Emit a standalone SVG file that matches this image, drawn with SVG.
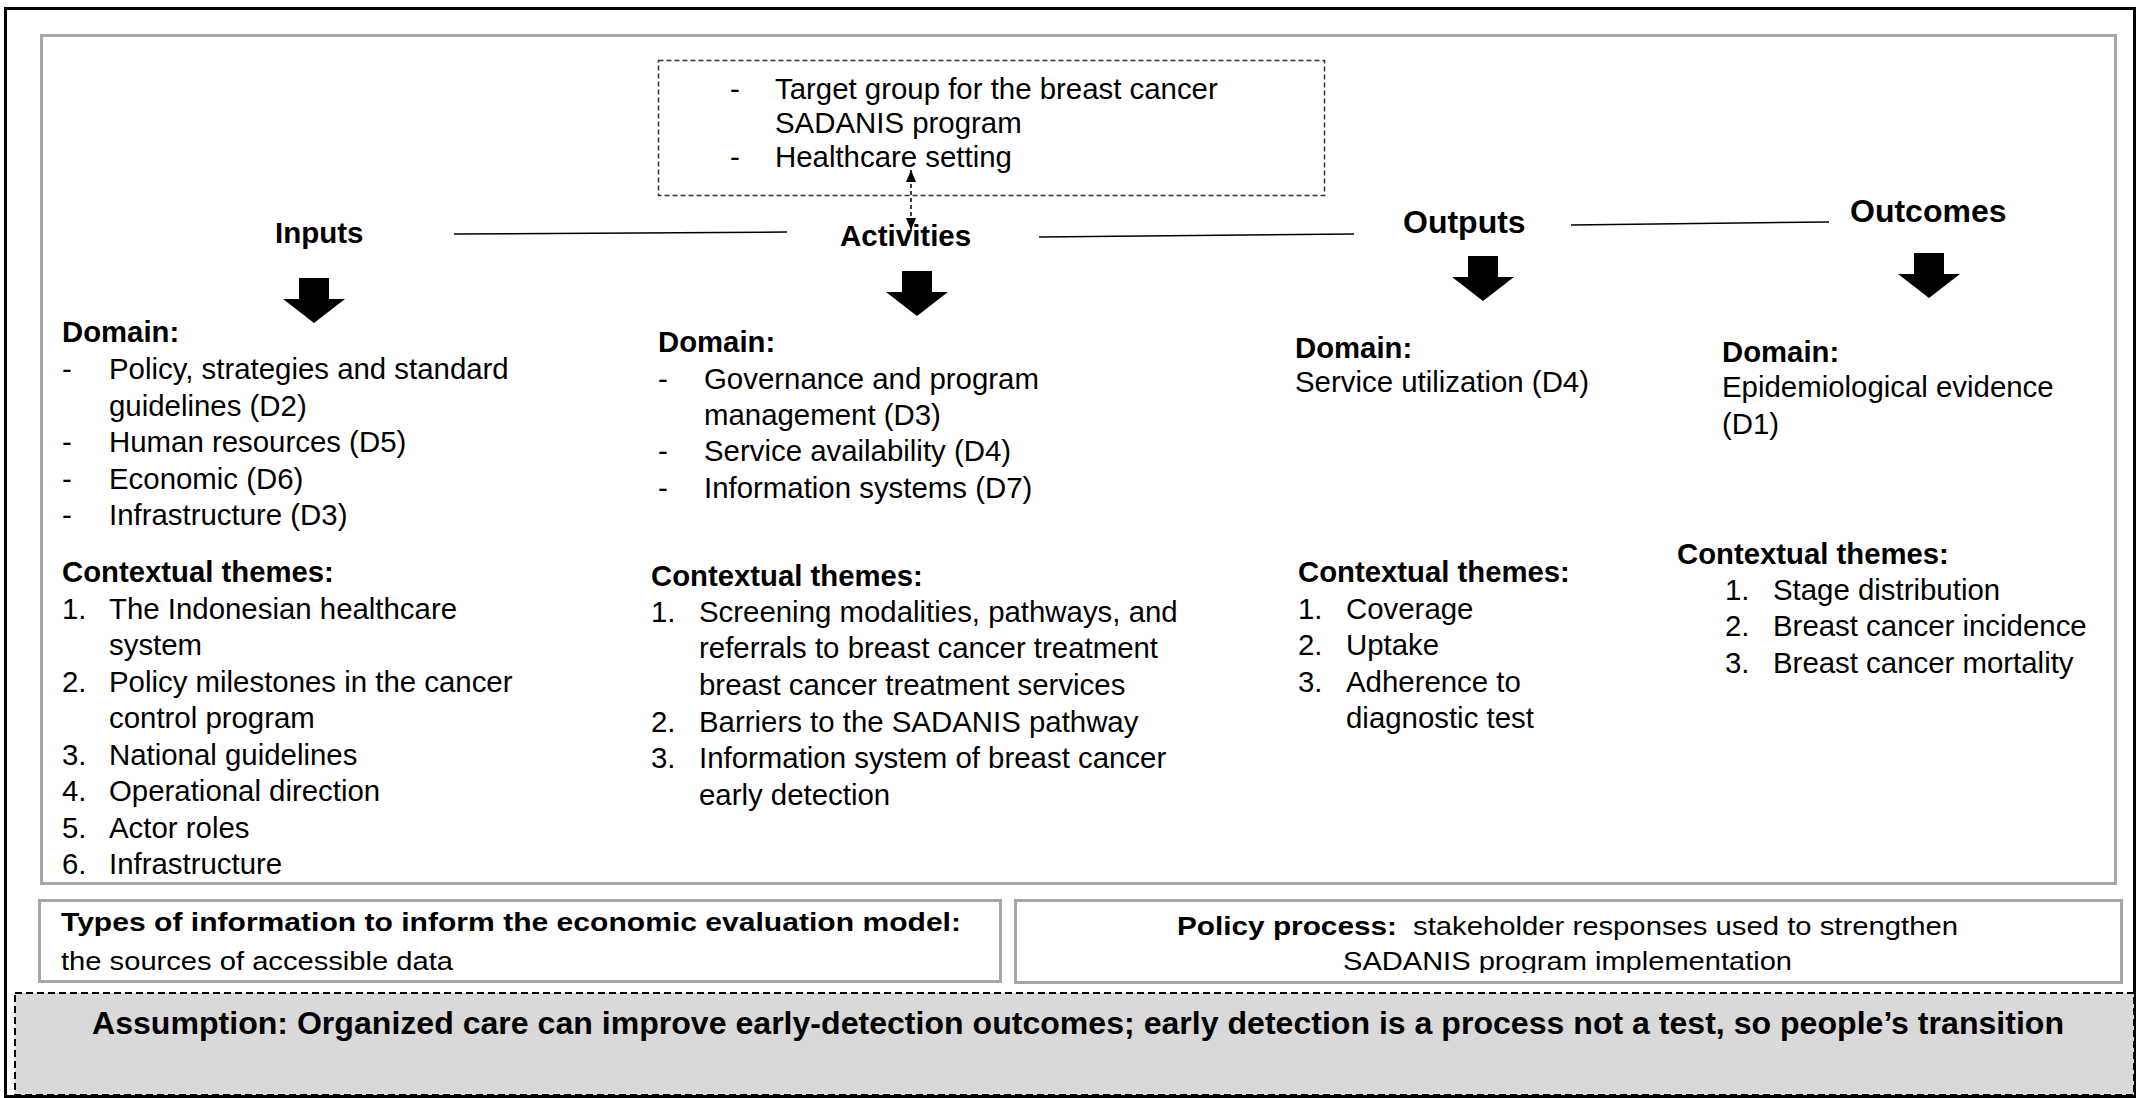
<svg xmlns="http://www.w3.org/2000/svg" width="2136" height="1098" viewBox="0 0 2136 1098">
  <style>
    text{font-family:"Liberation Sans",Arial,Helvetica,sans-serif;fill:#000}
    .t{font-size:29.4px}
    .b{font-size:29.3px;font-weight:bold}
    .hd{font-size:29.5px;font-weight:bold}
    .hl{font-size:32px;font-weight:bold}
    .sm{font-size:26px}
    .smb{font-size:26px;font-weight:bold}
    .panel{fill:#fff;stroke:#a6a6a6;stroke-width:3}
    .link{stroke:#000;stroke-width:1.5;fill:none}
  </style>
  <defs>
    <!-- solid block arrow, tip at (0,0) -->
    <path id="blockArrow" d="M-15,-45 H15 V-24 H31 L0,0 L-31,-24 H-15 Z" fill="#000"/>
    <marker id="tri" viewBox="0 0 12 10" refX="12" refY="5" markerWidth="12" markerHeight="10" markerUnits="userSpaceOnUse" orient="auto-start-reverse">
      <path d="M0,0 L12,5 L0,10 Z" fill="#000"/>
    </marker>
    <clipPath id="policyClip">
      <rect x="1016" y="901" width="1104" height="72"/>
    </clipPath>
  </defs>

  <!-- page frame and main panel -->
  <rect x="5.5" y="8.5" width="2129" height="1088" fill="#fff" stroke="#000" stroke-width="3"/>
  <rect class="panel" x="41.5" y="35.5" width="2074" height="848"/>

  <!-- target group / setting box -->
  <g id="context">
    <rect x="658.5" y="60.5" width="666" height="135" fill="none" stroke="#333" stroke-width="1.5" stroke-dasharray="5 3"/>
    <text class="t" x="730" y="99">-</text>
    <text class="t" x="775" y="99">Target group for the breast cancer</text>
    <text class="t" x="775" y="133">SADANIS program</text>
    <text class="t" x="730" y="167">-</text>
    <text class="t" x="775" y="167">Healthcare setting</text>
  </g>

  <!-- connectors -->
  <g id="connectors">
    <line class="link" x1="454" y1="234" x2="787" y2="232"/>
    <line class="link" x1="1039" y1="237" x2="1354" y2="234"/>
    <line class="link" x1="1571" y1="225" x2="1829" y2="222"/>
    <line x1="911" y1="170" x2="911" y2="230" stroke="#000" stroke-width="1.5" stroke-dasharray="4 3" marker-start="url(#tri)" marker-end="url(#tri)"/>
    <use href="#blockArrow" x="314" y="323"/>
    <use href="#blockArrow" x="917" y="316"/>
    <use href="#blockArrow" x="1483" y="301"/>
    <use href="#blockArrow" x="1929" y="298"/>
  </g>

  <!-- Inputs -->
  <g id="inputs">
    <text class="hd" x="275" y="243">Inputs</text>
    <text class="b" x="62" y="342">Domain:</text>
    <text class="t" x="62" y="379">-</text>
    <text class="t" x="109" y="379">Policy, strategies and standard</text>
    <text class="t" x="109" y="415.5">guidelines (D2)</text>
    <text class="t" x="62" y="452">-</text>
    <text class="t" x="109" y="452">Human resources (D5)</text>
    <text class="t" x="62" y="488.5">-</text>
    <text class="t" x="109" y="488.5">Economic (D6)</text>
    <text class="t" x="62" y="525">-</text>
    <text class="t" x="109" y="525">Infrastructure (D3)</text>
    <text class="b" x="62" y="582">Contextual themes:</text>
    <text class="t" x="62" y="618.5">1.</text>
    <text class="t" x="109" y="618.5">The Indonesian healthcare</text>
    <text class="t" x="109" y="655">system</text>
    <text class="t" x="62" y="691.5">2.</text>
    <text class="t" x="109" y="691.5">Policy milestones in the cancer</text>
    <text class="t" x="109" y="728">control program</text>
    <text class="t" x="62" y="764.5">3.</text>
    <text class="t" x="109" y="764.5">National guidelines</text>
    <text class="t" x="62" y="801">4.</text>
    <text class="t" x="109" y="801">Operational direction</text>
    <text class="t" x="62" y="837.5">5.</text>
    <text class="t" x="109" y="837.5">Actor roles</text>
    <text class="t" x="62" y="874">6.</text>
    <text class="t" x="109" y="874">Infrastructure</text>
  </g>

  <!-- Activities -->
  <g id="activities">
    <text class="hd" x="840" y="246">Activities</text>
    <text class="b" x="658" y="352">Domain:</text>
    <text class="t" x="658" y="389">-</text>
    <text class="t" x="704" y="389">Governance and program</text>
    <text class="t" x="704" y="425">management (D3)</text>
    <text class="t" x="658" y="461">-</text>
    <text class="t" x="704" y="461">Service availability (D4)</text>
    <text class="t" x="658" y="498">-</text>
    <text class="t" x="704" y="498">Information systems (D7)</text>
    <text class="b" x="651" y="586">Contextual themes:</text>
    <text class="t" x="651" y="622">1.</text>
    <text class="t" x="699" y="622">Screening modalities, pathways, and</text>
    <text class="t" x="699" y="658">referrals to breast cancer treatment</text>
    <text class="t" x="699" y="695">breast cancer treatment services</text>
    <text class="t" x="651" y="732">2.</text>
    <text class="t" x="699" y="732">Barriers to the SADANIS pathway</text>
    <text class="t" x="651" y="768">3.</text>
    <text class="t" x="699" y="768">Information system of breast cancer</text>
    <text class="t" x="699" y="805">early detection</text>
  </g>

  <!-- Outputs -->
  <g id="outputs">
    <text class="hl" x="1403" y="233">Outputs</text>
    <text class="b" x="1295" y="358">Domain:</text>
    <text class="t" x="1295" y="392">Service utilization (D4)</text>
    <text class="b" x="1298" y="582">Contextual themes:</text>
    <text class="t" x="1298" y="619">1.</text>
    <text class="t" x="1346" y="619">Coverage</text>
    <text class="t" x="1298" y="655">2.</text>
    <text class="t" x="1346" y="655">Uptake</text>
    <text class="t" x="1298" y="692">3.</text>
    <text class="t" x="1346" y="692">Adherence to</text>
    <text class="t" x="1346" y="728">diagnostic test</text>
  </g>

  <!-- Outcomes -->
  <g id="outcomes">
    <text class="hl" x="1850" y="222">Outcomes</text>
    <text class="b" x="1722" y="362">Domain:</text>
    <text class="t" x="1722" y="397">Epidemiological evidence</text>
    <text class="t" x="1722" y="434">(D1)</text>
    <text class="b" x="1677" y="564">Contextual themes:</text>
    <text class="t" x="1725" y="600">1.</text>
    <text class="t" x="1773" y="600">Stage distribution</text>
    <text class="t" x="1725" y="636">2.</text>
    <text class="t" x="1773" y="636">Breast cancer incidence</text>
    <text class="t" x="1725" y="673">3.</text>
    <text class="t" x="1773" y="673">Breast cancer mortality</text>
  </g>

  <!-- economic evaluation information -->
  <g id="econ-info">
    <rect class="panel" x="39.5" y="900.5" width="961" height="81"/>
    <text class="smb" x="61" y="931" textLength="900" lengthAdjust="spacingAndGlyphs">Types of information to inform the economic evaluation model:</text>
    <text class="sm" x="61" y="970" textLength="392" lengthAdjust="spacingAndGlyphs">the sources of accessible data</text>
  </g>

  <!-- policy process -->
  <g id="policy-process">
    <rect class="panel" x="1015.5" y="900.5" width="1106" height="82"/>
    <g clip-path="url(#policyClip)">
      <text class="smb" x="1177" y="935" textLength="220" lengthAdjust="spacingAndGlyphs">Policy process:</text>
      <text class="sm" x="1413" y="935" textLength="545" lengthAdjust="spacingAndGlyphs">stakeholder responses used to strengthen</text>
      <text class="sm" x="1343" y="970" textLength="449" lengthAdjust="spacingAndGlyphs">SADANIS program implementation</text>
    </g>
  </g>

  <!-- assumption banner -->
  <g id="assumption">
    <rect x="15" y="993" width="2119" height="102" fill="#d9d9d9" stroke="#000" stroke-width="2" stroke-dasharray="7 4"/>
    <text x="92" y="1034" font-size="32" font-weight="bold" textLength="1972" lengthAdjust="spacingAndGlyphs">Assumption: Organized care can improve early-detection outcomes; early detection is a process not a test, so people’s transition</text>
  </g>
</svg>
